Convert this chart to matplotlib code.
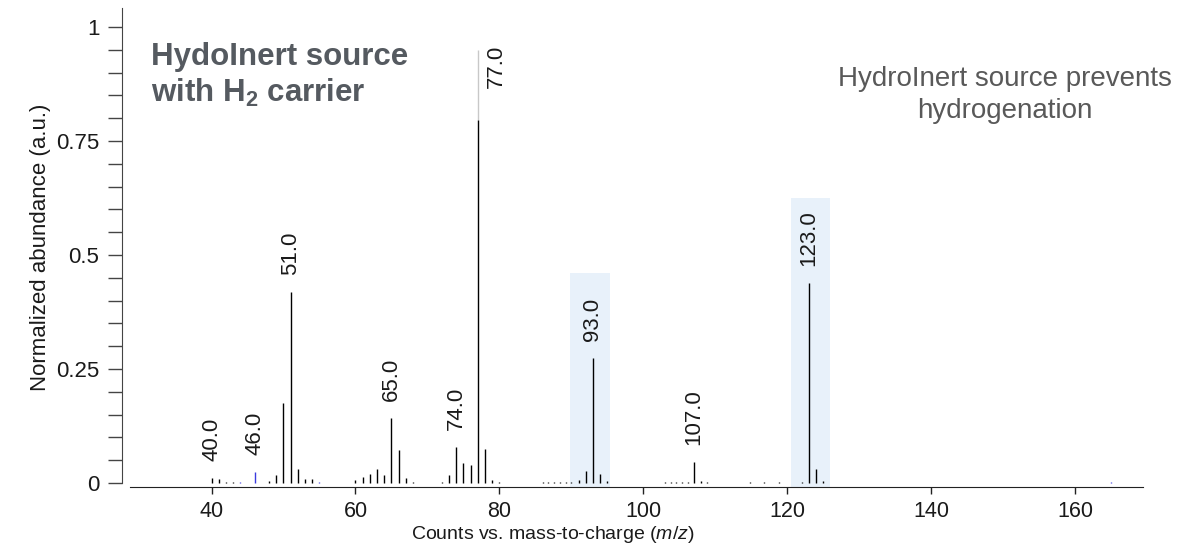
import matplotlib
matplotlib.use("Agg")
import matplotlib.pyplot as plt
from matplotlib import font_manager
from matplotlib.patches import Rectangle

# peaks (m/z, normalized abundance)
mz_black = [40, 41, 42, 43, 48, 49, 50, 51, 52, 53, 54,
            60, 61, 62, 63, 64, 65, 66, 67, 68,
            72, 73, 74, 75, 76, 77, 78, 79, 80,
            86, 86.8, 87.6, 88.4, 89.2, 90, 91, 92, 93, 94, 95,
            103, 103.8, 104.6, 105.4, 106.2, 107, 108, 108.8,
            114.8, 116.8, 118.8, 122, 123, 124, 125]
ab_black = [0.012, 0.009, 0.003, 0.003, 0.004, 0.017, 0.176, 0.419, 0.031, 0.009, 0.009,
            0.006, 0.013, 0.020, 0.031, 0.017, 0.143, 0.072, 0.011, 0.002,
            0.002, 0.017, 0.080, 0.044, 0.039, 0.796, 0.075, 0.006, 0.002,
            0.002, 0.002, 0.002, 0.002, 0.002, 0.002, 0.007, 0.026, 0.274, 0.020, 0.004,
            0.002, 0.002, 0.002, 0.002, 0.002, 0.046, 0.004, 0.002,
            0.002, 0.002, 0.002, 0.003, 0.439, 0.031, 0.004]
mz_blue = [44, 46, 55, 165]
ab_blue = [0.003, 0.024, 0.003, 0.003]

# labelled peaks
lab_mz = [40, 46, 51, 65, 74, 93, 107, 123]
lab_txt = ["40.0", "46.0", "51.0", "65.0", "74.0", "93.0", "107.0", "123.0"]

# highlighted windows (start, end, top)
hl_start = [89.8, 120.5]
hl_end = [95.4, 126.0]
hl_top = [0.46, 0.625]

# pick a narrow face for the x axis if there is one
narrow = "Liberation Sans"
for cand in ["Liberation Sans Narrow", "DejaVu Sans Condensed"]:
    try:
        font_manager.findfont(cand, fallback_to_default=False)
        narrow = cand
        break
    except Exception:
        pass

plt.rcParams["font.family"] = ["Liberation Sans", "DejaVu Sans"]
plt.rcParams["mathtext.fontset"] = "custom"
plt.rcParams["mathtext.it"] = narrow + ":italic"
plt.rcParams["mathtext.rm"] = "Liberation Sans"
plt.rcParams["mathtext.bf"] = "Liberation Sans:bold"

fig = plt.figure(figsize=(11.99, 5.46), dpi=100)
ax = fig.add_axes([130 / 1199, 59 / 546, 1013 / 1199, 479 / 546])

for s, e, t in zip(hl_start, hl_end, hl_top):
    ax.add_patch(Rectangle((s, -0.0088), e - s, t + 0.0088, facecolor="#e8f1fa",
                           edgecolor="none", zorder=0))

ax.vlines(mz_black, 0, ab_black, color="black", lw=1.0, zorder=2)
ax.vlines(mz_blue, 0, ab_blue, color="#3a3adf", lw=1.0, zorder=2)

ab_of = dict(zip(mz_black + mz_blue, ab_black + ab_blue))
for m, t in zip(lab_mz, lab_txt):
    ax.annotate(t, xy=(m, ab_of[m]), xytext=(0, 17), textcoords="offset pixels",
                rotation=90, ha="center", va="bottom", fontsize=16, color="#1a1a1a")

# tall 77 peak: leader line and label off to the side
ax.vlines([77], ab_of[77], 0.95, color="#c8c8c8", lw=1.0, zorder=1)
ax.annotate("77.0", xy=(77, 0.866), xytext=(19, 0), textcoords="offset pixels",
            rotation=90, ha="center", va="bottom", fontsize=16, color="#1a1a1a")

ax.set_xlim(28.67, 169.45)
ax.set_ylim(-0.0088, 1.0417)

for side in ["top", "right"]:
    ax.spines[side].set_visible(False)
ax.spines["left"].set_position(("outward", 6))
ax.spines["left"].set_bounds(0, 1.0417)
ax.spines["left"].set_color("#444444")
ax.spines["bottom"].set_color("#222222")

ax.set_yticks([0, 0.25, 0.5, 0.75, 1])
ax.set_yticklabels(["0", "0.25", "0.5", "0.75", "1"])
ax.set_yticks([i * 0.05 for i in range(21)], minor=True)
ax.tick_params(axis="y", which="both", length=10, width=1, color="#444444",
               labelsize=16, labelcolor="#1a1a1a", pad=6)
ax.set_xticks([40, 60, 80, 100, 120, 140, 160])
ax.tick_params(axis="x", length=5, width=1, color="#222222", labelsize=15.5,
               labelcolor="#1a1a1a", pad=5)
for lb in ax.get_xticklabels():
    lb.set_fontfamily(narrow)

ax.set_ylabel("Normalized abundance (a.u.)", fontsize=16, color="#1a1a1a", labelpad=4)
ax.set_xlabel("Counts vs. mass-to-charge ($m/z$)", fontsize=14, color="#1a1a1a",
              fontfamily=narrow)
ax.xaxis.set_label_coords((553 - 130) / 1013, -0.077)

fig.text(151 / 1199, (546 - 65) / 546, "HydoInert source", fontsize=22.5,
         fontweight="bold", color="#555a60", va="baseline")
fig.text(151 / 1199, (546 - 102) / 546, r"with H$_\mathbf{2}$ carrier", fontsize=22.5,
         fontweight="bold", color="#555a60", va="baseline")
fig.text(1005 / 1199, (546 - 86) / 546, "HydroInert source prevents", fontsize=20,
         color="#595959", ha="center", va="baseline")
fig.text(1005 / 1199, (546 - 118) / 546, "hydrogenation", fontsize=20,
         color="#595959", ha="center", va="baseline")

fig.savefig("out.png", dpi=100)
